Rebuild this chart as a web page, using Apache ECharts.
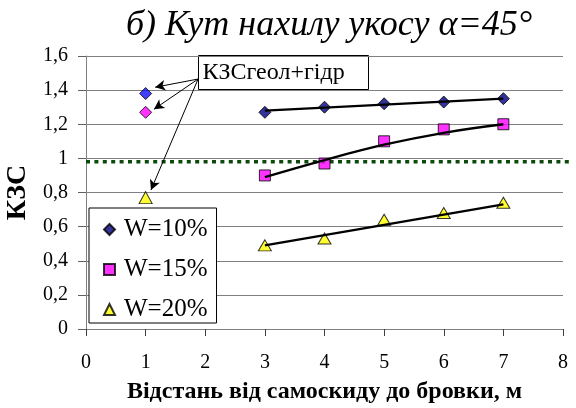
<!DOCTYPE html>
<html>
<head>
<meta charset="utf-8">
<script src="https://cdn.jsdelivr.net/npm/echarts@6/dist/echarts.min.js"></script>
<style>
html,body{margin:0;padding:0;background:#fff;}
#chart{width:576px;height:408px;}
</style>
</head>
<body>
<div id="chart"></div>
<script>
// ---- data ----
var titleText = 'б) Кут нахилу укосу α=45°';
var xName = 'Відстань від самоскиду до бровки, м';
var yName = 'КЗС';
var seriesNames = ['W=10%', 'W=15%', 'W=20%'];
var xs = [3, 4, 5, 6, 7];
var w10 = [1.27, 1.30, 1.32, 1.33, 1.35];
var w15 = [0.90, 0.97, 1.10, 1.17, 1.20];
var w20 = [0.49, 0.53, 0.64, 0.68, 0.74];
// combined geological + hydro values at x = 1
var geolX = 1;
var geolVals = [1.38, 1.27, 0.77];
var geolLabel = 'КЗСгеол+гідр';
// trend lines
var trend10X = [3, 7];
var trend10 = [1.28, 1.35];
var trend15X = [3, 4, 5, 6, 7];
var trend15 = [0.89, 0.99, 1.08, 1.15, 1.20];
var trend20X = [3, 7];
var trend20 = [0.49, 0.73];
// reference level
var refLevel = 0.98;
// annotation arrows (data coordinates: start at label box, end near points)
var arrowStart = [1.88, 1.465];
var arrowEnds = [[1.16, 1.417], [1.14, 1.288], [1.09, 0.815]];
var xTicks = {min: 0, max: 8, interval: 1};
var yTicks = {min: 0, max: 1.6, interval: 0.2};

function pairs(x, y) { return x.map(function (v, i) { return [v, y[i]]; }); }

var FONT = '"Liberation Serif", "Times New Roman", serif';
var chart = echarts.init(document.getElementById('chart'), null, {renderer: 'canvas'});

var geolColors = ['#1010ff', '#ff00ff', '#ffff00'];
var geolSymbols = ['diamond', 'diamond', 'triangle'];

var option = {
  animation: false,
  backgroundColor: '#ffffff',
  textStyle: {fontFamily: FONT},
  title: {
    text: titleText,
    left: 324, top: 3, textAlign: 'center',
    textStyle: {fontFamily: FONT, fontStyle: 'italic', fontWeight: 'normal', fontSize: 36, color: '#000'}
  },
  legend: {
    orient: 'vertical',
    left: 89, top: 208,
    data: seriesNames,
    backgroundColor: '#fff',
    borderColor: '#000', borderWidth: 1,
    padding: [9, 9, 1, 14],
    itemGap: 15,
    itemWidth: 11, itemHeight: 11,
    textStyle: {fontFamily: FONT, fontSize: 25, color: '#000', lineHeight: 25, padding: [0, 0, 0, 4]}
  },
  grid: [
    {left: 86, right: 13, top: 56, bottom: 79, containLabel: false, outerBoundsMode: 'none'},
    {left: 86, right: 6, top: 56, bottom: 79, containLabel: false, outerBoundsMode: 'none'}
  ],
  xAxis: [{
    type: 'value', gridIndex: 0,
    min: xTicks.min, max: xTicks.max, interval: xTicks.interval,
    name: xName, nameLocation: 'middle', nameGap: 51,
    nameTextStyle: {fontFamily: FONT, fontWeight: 'bold', fontSize: 24, color: '#000'},
    axisLine: {show: true, lineStyle: {color: '#808080', width: 1}},
    axisTick: {show: true, length: 7, lineStyle: {color: '#404040'}},
    axisLabel: {fontFamily: FONT, fontSize: 20, color: '#000', margin: 24},
    splitLine: {show: false}
  }, {
    type: 'value', gridIndex: 1, min: 0, max: 1, show: false
  }],
  yAxis: [{
    type: 'value', gridIndex: 0,
    min: yTicks.min, max: yTicks.max, interval: yTicks.interval,
    name: yName, nameLocation: 'middle', nameGap: 47, nameRotate: 90,
    nameTextStyle: {fontFamily: FONT, fontWeight: 'bold', fontSize: 28, color: '#000'},
    axisLine: {show: true, lineStyle: {color: '#808080', width: 1}},
    axisTick: {show: true, length: 8, lineStyle: {color: '#606060'}},
    axisLabel: {fontFamily: FONT, fontSize: 20, color: '#000', margin: 18,
      formatter: function (v) { return String(Math.round(v * 10) / 10).replace('.', ','); }},
    splitLine: {show: true, lineStyle: {color: '#808080', width: 1}}
  }, {
    type: 'value', gridIndex: 1, min: yTicks.min, max: yTicks.max, show: false
  }],
  series: [
    {
      name: 'ref', type: 'line', xAxisIndex: 1, yAxisIndex: 1, z: 1,
      data: [[0, refLevel], [1, refLevel]], symbol: 'none', silent: true,
      lineStyle: {color: '#0b4a0b', width: 3.5, type: [4, 4.4]}
    },
    {
      name: seriesNames[0], type: 'scatter', symbol: 'diamond', symbolSize: 12, z: 3,
      data: pairs(xs, w10),
      itemStyle: {color: '#000080', borderColor: '#000', borderWidth: 1}
    },
    {
      name: seriesNames[1], type: 'scatter', symbol: 'rect', symbolSize: 11, z: 3,
      data: pairs(xs, w15),
      itemStyle: {color: '#ff00ff', borderColor: '#000', borderWidth: 1}
    },
    {
      name: seriesNames[2], type: 'scatter', symbol: 'triangle', symbolSize: [13, 11], z: 3,
      data: pairs(xs, w20),
      itemStyle: {color: '#ffff00', borderColor: '#000', borderWidth: 1}
    },
    {
      name: 'geol', type: 'scatter', z: 3,
      data: geolVals.map(function (v, i) {
        return {value: [geolX, v], symbol: geolSymbols[i],
          symbolSize: geolSymbols[i] === 'triangle' ? [13, 12] : 12,
          itemStyle: {color: geolColors[i], borderColor: '#000', borderWidth: 1}};
      })
    },
    {
      name: 't10', type: 'line', z: 4, data: pairs(trend10X, trend10), symbol: 'none',
      lineStyle: {color: '#000', width: 2.3}
    },
    {
      name: 't15', type: 'line', z: 4, data: pairs(trend15X, trend15), symbol: 'none', smooth: 0.4,
      lineStyle: {color: '#000', width: 2.3}
    },
    {
      name: 't20', type: 'line', z: 4, data: pairs(trend20X, trend20), symbol: 'none',
      lineStyle: {color: '#000', width: 2.3}
    },
    {
      name: 'arrows', type: 'line', z: 5, data: [], symbol: 'none',
      markLine: {
        silent: true, animation: false,
        symbol: ['none', 'arrow'], symbolSize: [8, 10],
        label: {show: false},
        lineStyle: {color: '#000', width: 1, type: 'solid'},
        data: arrowEnds.map(function (e) { return [{coord: arrowStart}, {coord: e}]; })
      }
    }
  ],
  graphic: [{
    type: 'group', left: 198, top: 55, z: 10,
    children: [
      {type: 'rect', shape: {x: 0, y: 0, width: 170, height: 34},
        style: {fill: '#fff', stroke: '#000', lineWidth: 1}},
      {type: 'text', x: 4, y: 17,
        style: {text: geolLabel, fontFamily: FONT, fontSize: 24, fill: '#000', verticalAlign: 'middle'}}
    ]
  }]
};
chart.setOption(option);
</script>
</body>
</html>
